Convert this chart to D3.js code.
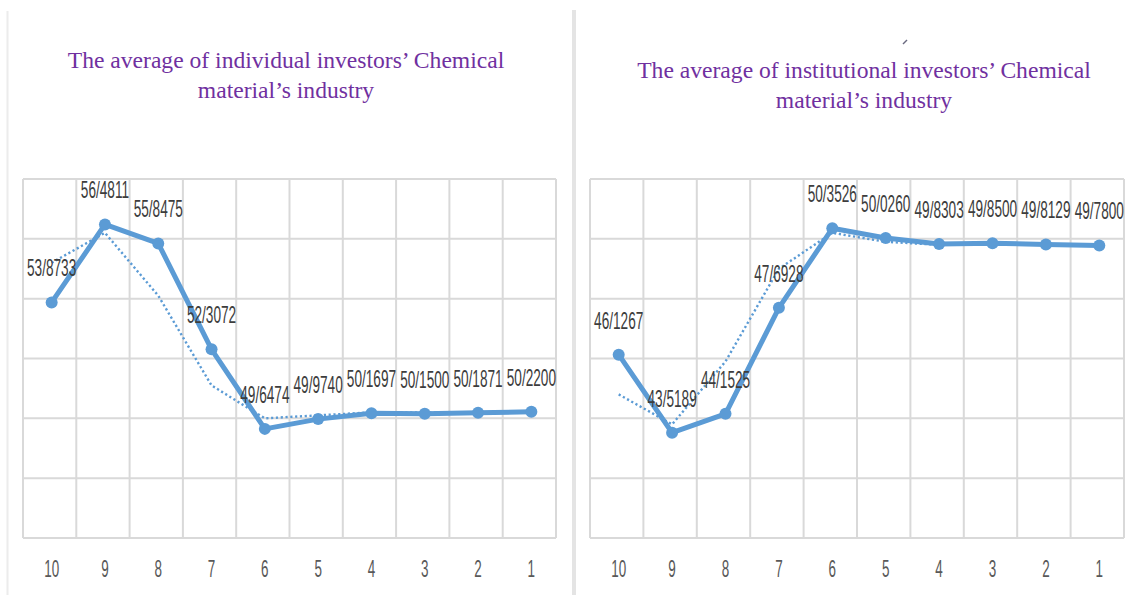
<!DOCTYPE html>
<html>
<head>
<meta charset="utf-8">
<script src="https://cdn.jsdelivr.net/npm/d3@7"></script>
<style>
  html, body { margin: 0; padding: 0; background: #ffffff; }
  svg { display: block; }
</style>
</head>
<body>
<svg id="chart" width="1132" height="595"></svg>
<script>
// Deciles, ranked from 10 down to 1
const categories = ["10", "9", "8", "7", "6", "5", "4", "3", "2", "1"];

// Average per decile, individual investors
const individualValues = [53.8733, 56.4811, 55.8475, 52.3072, 49.6474, 49.9740, 50.1697, 50.1500, 50.1871, 50.2200];
// Two-period moving-average trendline, individual investors (deciles 10..2)
const individualTrend = [55.2, 56.2, 54.1, 51.1, 50.0, 50.1, 50.2, 50.2, 50.2];

// Average per decile, institutional investors
const institutionalValues = [46.1267, 43.5189, 44.1525, 47.6928, 50.3526, 50.0260, 49.8303, 49.8500, 49.8129, 49.7800];
// Two-period moving-average trendline, institutional investors (deciles 10..2)
const institutionalTrend = [44.8, 43.8, 45.9, 49.0, 50.2, 49.9, 49.8, 49.8, 49.8];

// Value-axis extents (no tick labels are shown, only gridlines every 2 units)
const individualDomain = [46, 58];
const institutionalDomain = [40, 52];

const titleIndividual = ["The average of individual investors\u2019 Chemical", "material\u2019s industry"];
const titleInstitutional = ["The average of institutional investors\u2019 Chemical", "material\u2019s industry"];

const svg = d3.select("#chart");
const LINE = "#5B9BD5";
const GRID = "#d9d9d9";

// Panel frame lines
svg.append("line").attr("x1", 7.5).attr("x2", 7.5).attr("y1", 11).attr("y2", 595)
  .attr("stroke", "#ececec").attr("stroke-width", 2);
svg.append("line").attr("x1", 574).attr("x2", 574).attr("y1", 10).attr("y2", 595)
  .attr("stroke", "#e4e4e4").attr("stroke-width", 4);

// small stray pen mark above the right-hand title
svg.append("line").attr("x1", 903).attr("y1", 44).attr("x2", 907).attr("y2", 40)
  .attr("stroke", "#6a6a80").attr("stroke-width", 1.4);

const fmt = d3.format(".4f");

function drawPanel(opts) {
  const g = svg.append("g");
  const x = d3.scaleBand().domain(categories).range([opts.left, opts.right]);
  const y = d3.scaleLinear().domain(opts.domain).range([538, 179]);
  const cx = c => x(c) + x.bandwidth() / 2 + 2;

  // Title
  const title = g.append("text")
    .attr("font-family", "'Liberation Serif', 'Times New Roman', serif")
    .attr("font-size", 23.6)
    .attr("fill", "#7030A0")
    .attr("text-anchor", "middle");
  opts.title.forEach((t, i) => {
    title.append("tspan").attr("x", opts.titleX).attr("y", opts.titleY + i * 29.5).text(t);
  });

  // Gridlines: horizontal every 2 units, vertical at band edges
  const yTicks = d3.range(opts.domain[0], opts.domain[1] + 0.001, 2);
  g.append("g").selectAll("line").data(yTicks).join("line")
    .attr("x1", opts.left).attr("x2", opts.right)
    .attr("y1", d => y(d)).attr("y2", d => y(d))
    .attr("stroke", GRID).attr("stroke-width", 2);
  const edges = categories.map(c => x(c)).concat([opts.right]);
  g.append("g").selectAll("line").data(edges).join("line")
    .attr("x1", d => d).attr("x2", d => d)
    .attr("y1", y(opts.domain[1])).attr("y2", y(opts.domain[0]))
    .attr("stroke", GRID).attr("stroke-width", 2);

  // Category axis labels
  const xAxis = g.append("g").attr("transform", "translate(0,538)")
    .call(d3.axisBottom(x).tickSize(0).tickPadding(0));
  xAxis.select(".domain").remove();
  xAxis.selectAll(".tick").attr("transform", d => `translate(${cx(d)},0)`);
  xAxis.selectAll(".tick text")
    .attr("y", 39)
    .attr("dy", 0)
    .attr("font-family", "'Liberation Sans', Arial, sans-serif")
    .attr("font-size", 24)
    .attr("fill", "#595959")
    .attr("transform", "scale(0.56,1)");

  // Trendline (dotted)
  const trendLine = d3.line().x((d, i) => cx(categories[i])).y(d => y(d));
  g.append("path").datum(opts.trend)
    .attr("d", trendLine)
    .attr("fill", "none")
    .attr("stroke", LINE)
    .attr("stroke-width", 2.4)
    .attr("stroke-dasharray", "2.2,2.6");

  // Main series
  const line = d3.line().x((d, i) => cx(categories[i])).y(d => y(d));
  g.append("path").datum(opts.values)
    .attr("d", line)
    .attr("fill", "none")
    .attr("stroke", LINE)
    .attr("stroke-width", 5)
    .attr("stroke-linejoin", "round")
    .attr("stroke-linecap", "round");
  g.append("g").selectAll("circle").data(opts.values).join("circle")
    .attr("cx", (d, i) => cx(categories[i]))
    .attr("cy", d => y(d))
    .attr("r", 6)
    .attr("fill", LINE);

  // Data labels (decimal point shown as "/")
  g.append("g").selectAll("text").data(opts.values).join("text")
    .attr("transform", (d, i) => `translate(${cx(categories[i])},${y(d) - 26}) scale(0.58,1)`)
    .attr("text-anchor", "middle")
    .attr("font-family", "'Liberation Sans', Arial, sans-serif")
    .attr("font-size", 23.5)
    .attr("fill", "#3d3d3d")
    .text(d => fmt(d).replace(".", "/"));
}

drawPanel({
  left: 23, right: 556, domain: individualDomain,
  values: individualValues, trend: individualTrend,
  title: titleIndividual, titleX: 286, titleY: 68
});

drawPanel({
  left: 590, right: 1124, domain: institutionalDomain,
  values: institutionalValues, trend: institutionalTrend,
  title: titleInstitutional, titleX: 864, titleY: 78
});
</script>
</body>
</html>
